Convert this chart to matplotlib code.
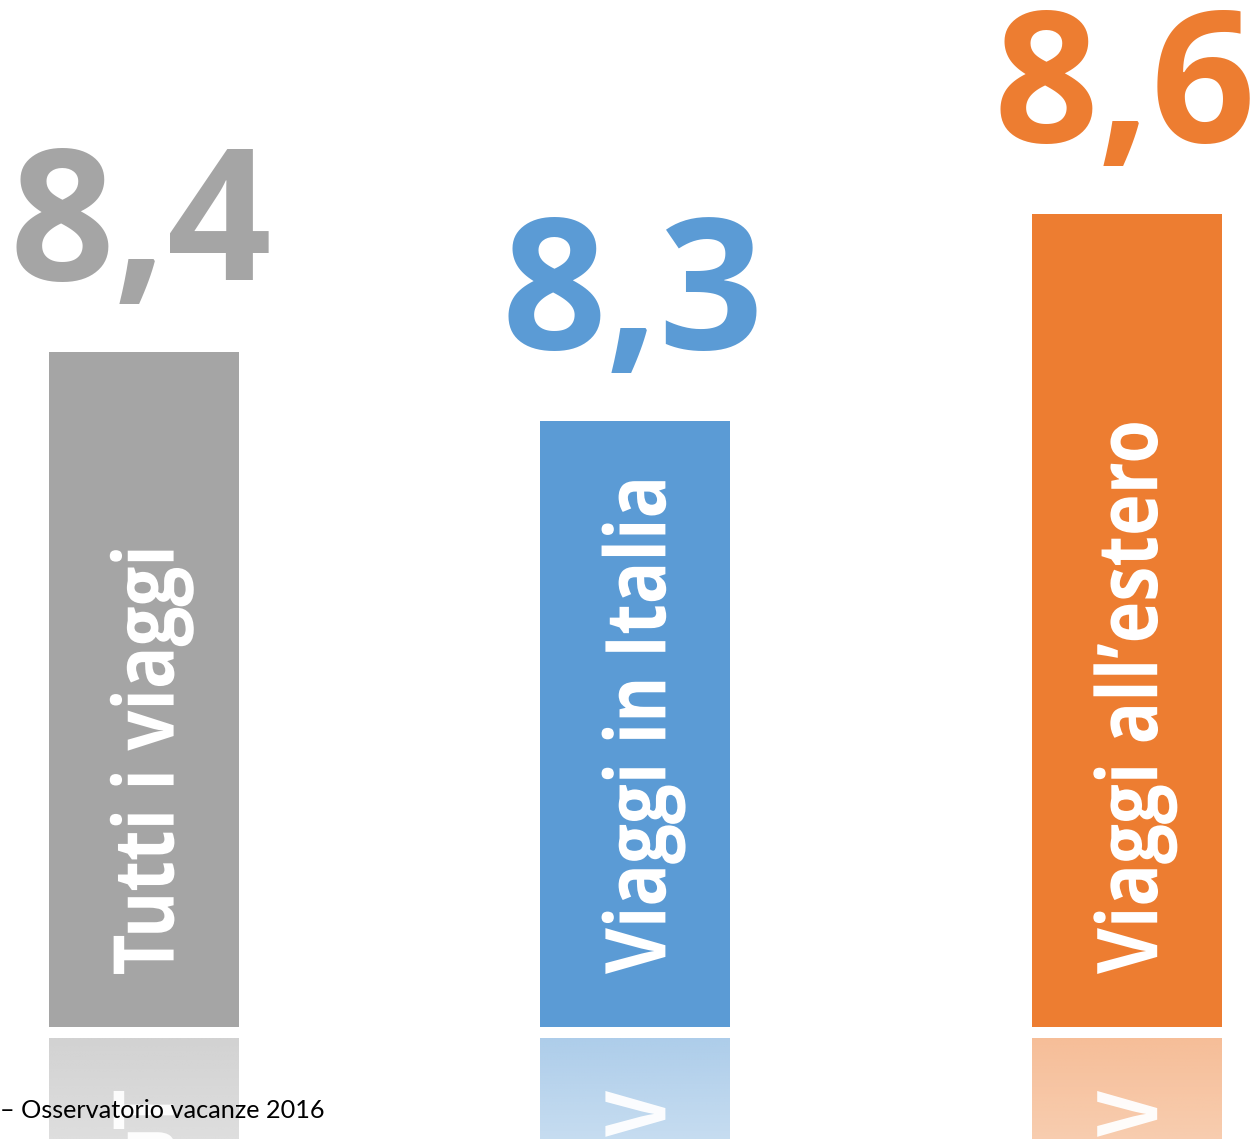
## Viaggi - valutazione media (Osservatorio vacanze 2016)

import numpy as np
import matplotlib
matplotlib.use('Agg')
import matplotlib.pyplot as plt
from matplotlib.textpath import TextPath
from matplotlib.font_manager import FontProperties
from matplotlib.patches import PathPatch, Rectangle
from matplotlib.transforms import Affine2D, ScaledTranslation

categories = ['Tutti i viaggi', 'Viaggi in Italia', 'Viaggi all\u2019estero']
values = [8.4, 8.3, 8.6]
colors = ['#a5a5a5', '#5b9bd5', '#ed7d31']
source = '\u2013 Osservatorio vacanze 2016'

DPI = 100
base = 7.42          # value where bars start
bar_w = 0.386
px_per_unit = 689

fig = plt.figure(figsize=(12.59, 11.39), dpi=DPI)
ax = fig.add_axes([0, 0, 1, 1])
ax.axis('off')

x = np.arange(len(values))
heights = [v - base for v in values]
ax.bar(x, heights, bottom=base, width=bar_w, color=colors, zorder=2)

fp = FontProperties(family='Open Sans', weight='bold')
txt_size = 84      # px
squeeze = 0.84     # narrower letters, like the original font
cap = 0.714 * txt_size
gap = 11           # px between bar and reflection
text_start = 53    # px above baseline where the vertical label begins

for i, (v, c, lab) in enumerate(zip(values, colors, categories)):
    # value on top
    ax.annotate(f'{v:.1f}'.replace('.', ','), xy=(i, v), xytext=(-2, 72 * 72 / DPI),
                textcoords='offset points', ha='center', va='baseline',
                fontsize=132, fontweight='bold', family='Open Sans', color=c, zorder=3)

    anchor = ScaledTranslation(i, base, ax.transData)
    tp = TextPath((0, 0), lab, size=txt_size, prop=fp)
    x0 = tp.get_extents().x0

    # label inside bar, reading bottom to top
    t_main = (Affine2D().translate(-x0, 0).scale(squeeze, 1).rotate_deg(90)
              .translate(cap / 2, text_start) + anchor)
    ax.add_patch(PathPatch(tp, transform=t_main, facecolor='white', edgecolor='none', zorder=4))

    # reflection of the bar (fading)
    refl_top = base - gap / px_per_unit
    rect = Rectangle((i - bar_w / 2, refl_top - (v - base)), bar_w, v - base,
                     transform=ax.transData, facecolor='none', edgecolor='none')
    ax.add_patch(rect)
    rgb = matplotlib.colors.to_rgb(c)
    n = 256
    grad = np.zeros((n, 1, 4))
    grad[:, 0, :3] = rgb
    d = np.linspace(0, 1, n)
    grad[:, 0, 3] = np.clip(0.5 * (1 - d / 0.55), 0, 1)
    im = ax.imshow(grad, extent=(i - bar_w / 2, i + bar_w / 2, refl_top - (v - base), refl_top),
                   origin='upper', aspect='auto', interpolation='bilinear', zorder=1)
    im.set_clip_path(rect)

    # mirrored label
    t_refl = (Affine2D().translate(-x0, 0).scale(squeeze, 1).rotate_deg(90).scale(1, -1)
              .translate(cap / 2, -gap - text_start) + anchor)
    pp = PathPatch(tp, transform=t_refl, facecolor='white', edgecolor='none', alpha=0.95, zorder=1.5)
    ax.add_patch(pp)
    pp.set_clip_path(rect)

ax.set_xlim(-0.292, 2.268)
ax.set_ylim(7.2574, 8.9106)

fig.text(0.0, 0.0184, source, fontsize=18.2, family='Lato', color='black',
         ha='left', va='baseline', zorder=10)

fig.savefig('out.png', dpi=DPI)
